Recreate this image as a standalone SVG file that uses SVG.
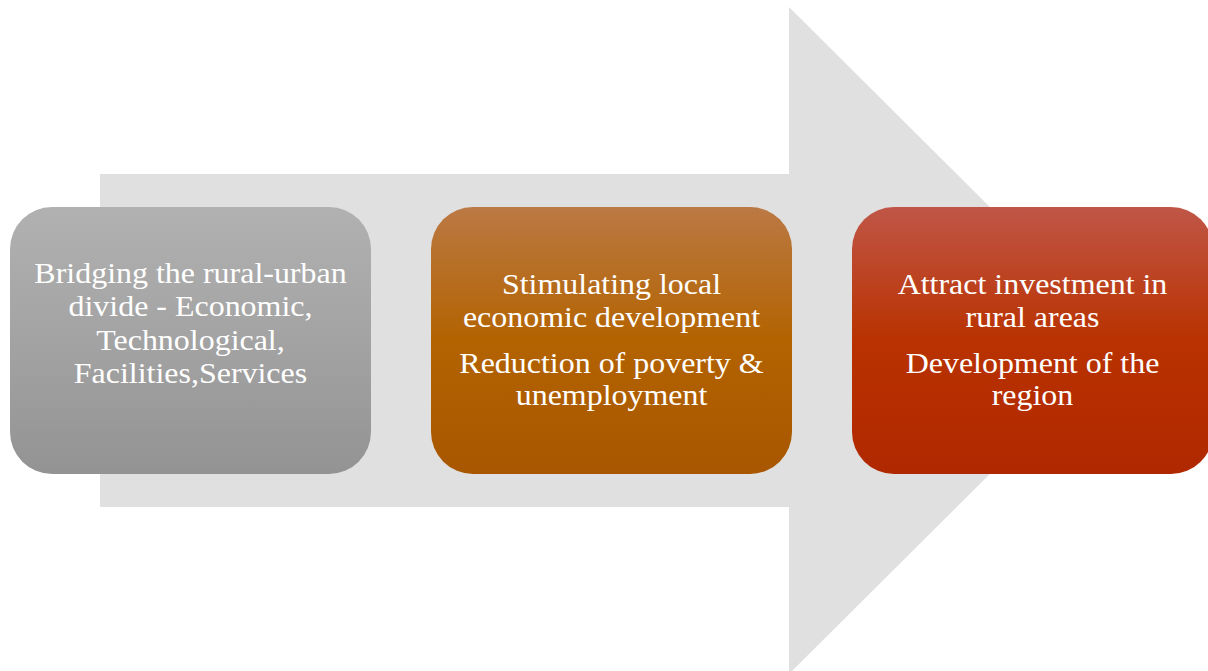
<svg xmlns="http://www.w3.org/2000/svg" width="1208" height="671" viewBox="0 0 1208 671">
<defs>
<linearGradient id="gGray" x1="0" y1="0" x2="0" y2="1">
<stop offset="0" stop-color="#b1b1b1"/>
<stop offset="0.5" stop-color="#a3a3a3"/>
<stop offset="1" stop-color="#939393"/>
</linearGradient>
<linearGradient id="gOrange" x1="0" y1="0" x2="0" y2="1">
<stop offset="0" stop-color="#bb7944"/>
<stop offset="0.5" stop-color="#b36300"/>
<stop offset="1" stop-color="#a85600"/>
</linearGradient>
<linearGradient id="gRed" x1="0" y1="0" x2="0" y2="1">
<stop offset="0" stop-color="#c05647"/>
<stop offset="0.5" stop-color="#b93200"/>
<stop offset="1" stop-color="#b02800"/>
</linearGradient>
<style>
.lbl{font-family:"Liberation Serif","Times New Roman",serif;font-size:30px;fill:#ffffff;text-anchor:middle;}
.box{stroke:none;}
</style>
</defs>
<rect width="1208" height="671" fill="#ffffff"/>
<g id="connectors">
<path d="M100 174 L789 174 L789 7 L1124 340.5 L789 674 L789 507 L100 507 Z" fill="#e0e0e0"/>
</g>
<g id="node1">
<rect class="box" x="10" y="207" width="361" height="267" rx="42" ry="42" fill="url(#gGray)"/>
<g transform="translate(190.5,0) scale(1.065,1)">
<text class="lbl" x="0" y="283">Bridging the rural-urban</text>
<text class="lbl" x="0" y="316.5">divide - Economic,</text>
<text class="lbl" x="0" y="350">Technological,</text>
<text class="lbl" x="0" y="383.5">Facilities,Services</text>
</g>
</g>
<g id="node2">
<rect class="box" x="431" y="207" width="361" height="267" rx="42" ry="42" fill="url(#gOrange)"/>
<g transform="translate(611.5,0) scale(1.065,1)">
<text class="lbl" x="0" y="294">Stimulating local</text>
<text class="lbl" x="0" y="327.5">economic development</text>
<text class="lbl" x="0" y="373">Reduction of poverty &amp;</text>
<text class="lbl" x="0" y="405.5">unemployment</text>
</g>
</g>
<g id="node3">
<rect class="box" x="852" y="207" width="361" height="267" rx="42" ry="42" fill="url(#gRed)"/>
<g transform="translate(1032.5,0) scale(1.065,1)">
<text class="lbl" x="0" y="294.5">Attract investment in</text>
<text class="lbl" x="0" y="327.5">rural areas</text>
<text class="lbl" x="0" y="373.5">Development of the</text>
<text class="lbl" x="0" y="405.5">region</text>
</g>
</g>
</svg>
